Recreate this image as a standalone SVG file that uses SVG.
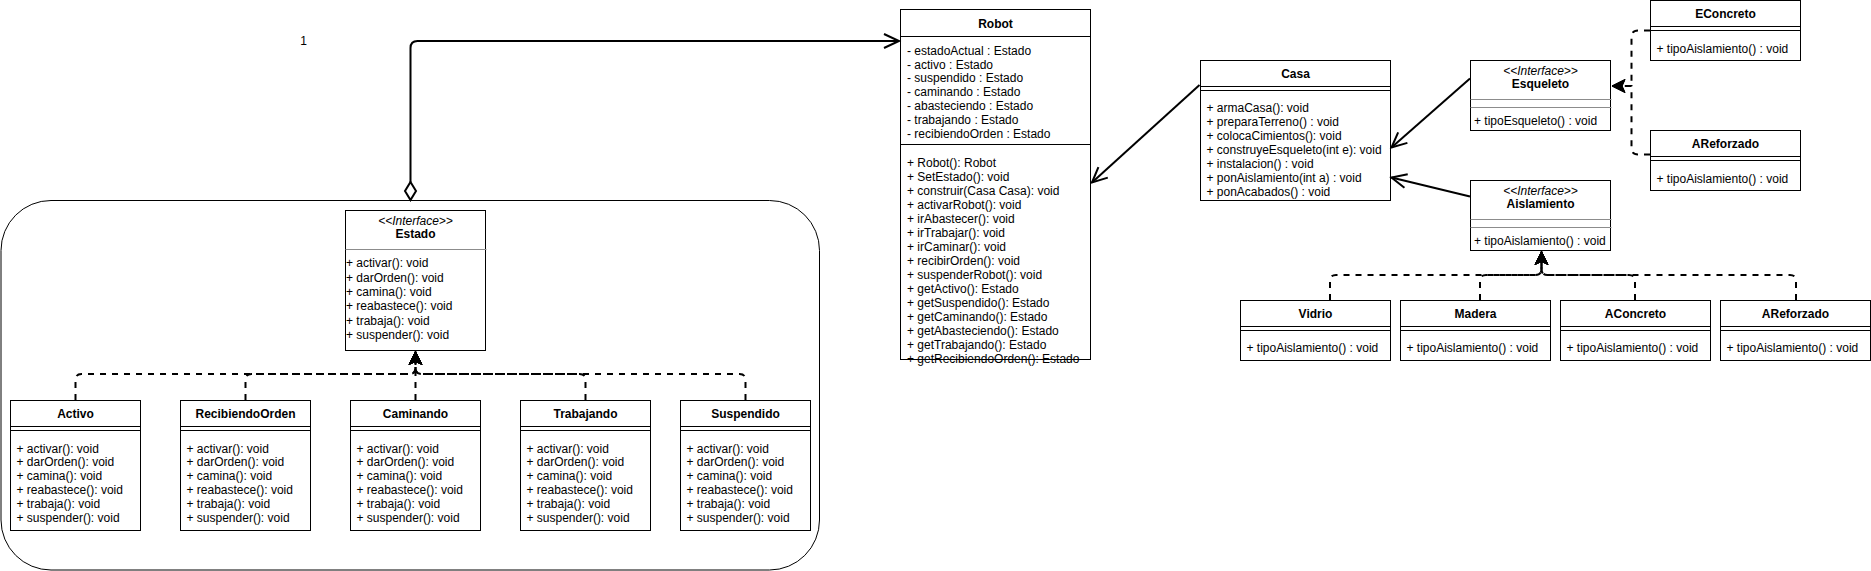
<svg xmlns="http://www.w3.org/2000/svg" width="1871" height="571" viewBox="0 0 1871 571">
<style>
.box{fill:#fff;stroke:#000;stroke-width:1}
.sep{stroke:#000;stroke-width:1}
.gsep{stroke:#8c8c8c;stroke-width:1}
.t{font-family:"Liberation Sans",Arial,Helvetica,sans-serif;font-size:12px;fill:#000}
.b{font-weight:bold;text-anchor:middle}
.i{font-style:italic;text-anchor:middle}
.conn{fill:none;stroke:#000;stroke-width:2}
.dash{stroke-dasharray:6 6}
.mk-open{fill:none;stroke:#000;stroke-width:2}
.mk-fill{fill:#000;stroke:#000;stroke-width:1}
</style>
<defs>
<marker id="open" markerUnits="userSpaceOnUse" markerWidth="20" markerHeight="18" refX="16" refY="8" orient="auto" overflow="visible">
<path class="mk-open" d="M1,1 L16,8 L1,15"/>
</marker>
<marker id="tri" markerUnits="userSpaceOnUse" markerWidth="16" markerHeight="16" refX="13" refY="6.5" orient="auto" overflow="visible">
<path class="mk-fill" d="M0,0 L13,6.5 L0,13 L3,6.5 Z"/>
</marker>
</defs>

<g id="container">
<rect x="1" y="200.5" width="818.5" height="369.5" rx="50" ry="50" fill="#fff" stroke="#000" stroke-width="1"/>
</g>

<g id="label-1"><text class="t" x="303.5" y="44.5" text-anchor="middle" font-size="11">1</text></g>

<g id="Robot">
<rect class="box" x="900.5" y="9.5" width="190" height="350"/>
<line class="sep" x1="900.5" y1="36.5" x2="1090.5" y2="36.5"/>
<line class="sep" x1="900.5" y1="144.5" x2="1090.5" y2="144.5"/>
<text class="t b" x="995.5" y="28">Robot</text>
<text class="t" x="907">
<tspan x="907" y="54.7">- estadoActual : Estado</tspan>
<tspan x="907" y="68.5">- activo : Estado</tspan>
<tspan x="907" y="82.3">- suspendido : Estado</tspan>
<tspan x="907" y="96.1">- caminando : Estado</tspan>
<tspan x="907" y="109.9">- abasteciendo : Estado</tspan>
<tspan x="907" y="123.7">- trabajando : Estado</tspan>
<tspan x="907" y="137.5">- recibiendoOrden : Estado</tspan>
</text>
<text class="t" x="907">
<tspan x="907" y="166.5">+ Robot(): Robot</tspan>
<tspan x="907" y="180.5">+ SetEstado(): void</tspan>
<tspan x="907" y="194.5">+ construir(Casa Casa): void</tspan>
<tspan x="907" y="208.5">+ activarRobot(): void</tspan>
<tspan x="907" y="222.5">+ irAbastecer(): void</tspan>
<tspan x="907" y="236.5">+ irTrabajar(): void</tspan>
<tspan x="907" y="250.5">+ irCaminar(): void</tspan>
<tspan x="907" y="264.5">+ recibirOrden(): void</tspan>
<tspan x="907" y="278.5">+ suspenderRobot(): void</tspan>
<tspan x="907" y="292.5">+ getActivo(): Estado</tspan>
<tspan x="907" y="306.5">+ getSuspendido(): Estado</tspan>
<tspan x="907" y="320.5">+ getCaminando(): Estado</tspan>
<tspan x="907" y="334.5">+ getAbasteciendo(): Estado</tspan>
<tspan x="907" y="348.5">+ getTrabajando(): Estado</tspan>
<tspan x="907" y="362.5">+ getRecibiendoOrden(): Estado</tspan>
</text>
<line class="sep" x1="900.5" y1="359.5" x2="1090.5" y2="359.5"/>
</g>

<g id="Estado">
<rect class="box" x="345.5" y="210.5" width="140" height="140"/>
<line class="gsep" x1="345.5" y1="249.5" x2="486.5" y2="249.5"/>
<text class="t i" x="415.5" y="224.5">&lt;&lt;Interface&gt;&gt;</text>
<text class="t b" x="415.5" y="238">Estado</text>
<text class="t">
<tspan x="346" y="267.3">+ activar(): void</tspan>
<tspan x="346" y="281.6">+ darOrden(): void</tspan>
<tspan x="346" y="295.9">+ camina(): void</tspan>
<tspan x="346" y="310.2">+ reabastece(): void</tspan>
<tspan x="346" y="324.5">+ trabaja(): void</tspan>
<tspan x="346" y="338.8">+ suspender(): void</tspan>
</text>
</g>

<g id="Activo">
<rect class="box" x="10.5" y="400.5" width="130" height="130"/>
<line class="sep" x1="10.5" y1="426.5" x2="140.5" y2="426.5"/>
<line class="sep" x1="10.5" y1="430.5" x2="140.5" y2="430.5"/>
<text class="t b" x="75.5" y="418">Activo</text>
<text class="t">
<tspan x="16.5" y="452.5">+ activar(): void</tspan>
<tspan x="16.5" y="466.3">+ darOrden(): void</tspan>
<tspan x="16.5" y="480.1">+ camina(): void</tspan>
<tspan x="16.5" y="493.9">+ reabastece(): void</tspan>
<tspan x="16.5" y="507.7">+ trabaja(): void</tspan>
<tspan x="16.5" y="521.5">+ suspender(): void</tspan>
</text>
</g>

<g id="RecibiendoOrden">
<rect class="box" x="180.5" y="400.5" width="130" height="130"/>
<line class="sep" x1="180.5" y1="426.5" x2="310.5" y2="426.5"/>
<line class="sep" x1="180.5" y1="430.5" x2="310.5" y2="430.5"/>
<text class="t b" x="245.5" y="418">RecibiendoOrden</text>
<text class="t">
<tspan x="186.5" y="452.5">+ activar(): void</tspan>
<tspan x="186.5" y="466.3">+ darOrden(): void</tspan>
<tspan x="186.5" y="480.1">+ camina(): void</tspan>
<tspan x="186.5" y="493.9">+ reabastece(): void</tspan>
<tspan x="186.5" y="507.7">+ trabaja(): void</tspan>
<tspan x="186.5" y="521.5">+ suspender(): void</tspan>
</text>
</g>

<g id="Caminando">
<rect class="box" x="350.5" y="400.5" width="130" height="130"/>
<line class="sep" x1="350.5" y1="426.5" x2="480.5" y2="426.5"/>
<line class="sep" x1="350.5" y1="430.5" x2="480.5" y2="430.5"/>
<text class="t b" x="415.5" y="418">Caminando</text>
<text class="t">
<tspan x="356.5" y="452.5">+ activar(): void</tspan>
<tspan x="356.5" y="466.3">+ darOrden(): void</tspan>
<tspan x="356.5" y="480.1">+ camina(): void</tspan>
<tspan x="356.5" y="493.9">+ reabastece(): void</tspan>
<tspan x="356.5" y="507.7">+ trabaja(): void</tspan>
<tspan x="356.5" y="521.5">+ suspender(): void</tspan>
</text>
</g>

<g id="Trabajando">
<rect class="box" x="520.5" y="400.5" width="130" height="130"/>
<line class="sep" x1="520.5" y1="426.5" x2="650.5" y2="426.5"/>
<line class="sep" x1="520.5" y1="430.5" x2="650.5" y2="430.5"/>
<text class="t b" x="585.5" y="418">Trabajando</text>
<text class="t">
<tspan x="526.5" y="452.5">+ activar(): void</tspan>
<tspan x="526.5" y="466.3">+ darOrden(): void</tspan>
<tspan x="526.5" y="480.1">+ camina(): void</tspan>
<tspan x="526.5" y="493.9">+ reabastece(): void</tspan>
<tspan x="526.5" y="507.7">+ trabaja(): void</tspan>
<tspan x="526.5" y="521.5">+ suspender(): void</tspan>
</text>
</g>

<g id="Suspendido">
<rect class="box" x="680.5" y="400.5" width="130" height="130"/>
<line class="sep" x1="680.5" y1="426.5" x2="810.5" y2="426.5"/>
<line class="sep" x1="680.5" y1="430.5" x2="810.5" y2="430.5"/>
<text class="t b" x="745.5" y="418">Suspendido</text>
<text class="t">
<tspan x="686.5" y="452.5">+ activar(): void</tspan>
<tspan x="686.5" y="466.3">+ darOrden(): void</tspan>
<tspan x="686.5" y="480.1">+ camina(): void</tspan>
<tspan x="686.5" y="493.9">+ reabastece(): void</tspan>
<tspan x="686.5" y="507.7">+ trabaja(): void</tspan>
<tspan x="686.5" y="521.5">+ suspender(): void</tspan>
</text>
</g>

<g id="Casa">
<rect class="box" x="1200.5" y="60.5" width="190" height="140"/>
<line class="sep" x1="1200.5" y1="86.5" x2="1390.5" y2="86.5"/>
<line class="sep" x1="1200.5" y1="90.5" x2="1390.5" y2="90.5"/>
<text class="t b" x="1295.5" y="78">Casa</text>
<text class="t">
<tspan x="1206.5" y="112.4">+ armaCasa(): void</tspan>
<tspan x="1206.5" y="126.3">+ preparaTerreno() : void</tspan>
<tspan x="1206.5" y="140.2">+ colocaCimientos(): void</tspan>
<tspan x="1206.5" y="154.1">+ construyeEsqueleto(int e): void</tspan>
<tspan x="1206.5" y="168">+ instalacion() : void</tspan>
<tspan x="1206.5" y="181.9">+ ponAislamiento(int a) : void</tspan>
<tspan x="1206.5" y="195.8">+ ponAcabados() : void</tspan>
</text>
</g>

<g id="Esqueleto">
<rect class="box" x="1470.5" y="60.5" width="140" height="70"/>
<line class="gsep" x1="1470.5" y1="99.5" x2="1611.5" y2="99.5"/>
<line class="gsep" x1="1470.5" y1="107.5" x2="1611.5" y2="107.5"/>
<text class="t i" x="1540.5" y="74.7">&lt;&lt;Interface&gt;&gt;</text>
<text class="t b" x="1540.5" y="88.2">Esqueleto</text>
<text class="t" x="1474" y="124.9">+ tipoEsqueleto() : void</text>
</g>

<g id="Aislamiento">
<rect class="box" x="1470.5" y="180.5" width="140" height="70"/>
<line class="gsep" x1="1470.5" y1="219.5" x2="1611.5" y2="219.5"/>
<line class="gsep" x1="1470.5" y1="227.5" x2="1611.5" y2="227.5"/>
<text class="t i" x="1540.5" y="194.7">&lt;&lt;Interface&gt;&gt;</text>
<text class="t b" x="1540.5" y="208.2">Aislamiento</text>
<text class="t" x="1474" y="244.9">+ tipoAislamiento() : void</text>
</g>

<g id="EConcreto">
<rect class="box" x="1650.5" y="0.5" width="150" height="60"/>
<line class="sep" x1="1650.5" y1="26.5" x2="1800.5" y2="26.5"/>
<line class="sep" x1="1650.5" y1="30.5" x2="1800.5" y2="30.5"/>
<text class="t b" x="1725.5" y="18">EConcreto</text>
<text class="t" x="1656.5" y="52.5">+ tipoAislamiento() : void</text>
</g>

<g id="AReforzado-E">
<rect class="box" x="1650.5" y="130.5" width="150" height="60"/>
<line class="sep" x1="1650.5" y1="156.5" x2="1800.5" y2="156.5"/>
<line class="sep" x1="1650.5" y1="160.5" x2="1800.5" y2="160.5"/>
<text class="t b" x="1725.5" y="148">AReforzado</text>
<text class="t" x="1656.5" y="182.5">+ tipoAislamiento() : void</text>
</g>

<g id="Vidrio">
<rect class="box" x="1240.5" y="300.5" width="150" height="60"/>
<line class="sep" x1="1240.5" y1="326.5" x2="1390.5" y2="326.5"/>
<line class="sep" x1="1240.5" y1="330.5" x2="1390.5" y2="330.5"/>
<text class="t b" x="1315.5" y="318">Vidrio</text>
<text class="t" x="1246.5" y="351.5">+ tipoAislamiento() : void</text>
</g>

<g id="Madera">
<rect class="box" x="1400.5" y="300.5" width="150" height="60"/>
<line class="sep" x1="1400.5" y1="326.5" x2="1550.5" y2="326.5"/>
<line class="sep" x1="1400.5" y1="330.5" x2="1550.5" y2="330.5"/>
<text class="t b" x="1475.5" y="318">Madera</text>
<text class="t" x="1406.5" y="351.5">+ tipoAislamiento() : void</text>
</g>

<g id="AConcreto">
<rect class="box" x="1560.5" y="300.5" width="150" height="60"/>
<line class="sep" x1="1560.5" y1="326.5" x2="1710.5" y2="326.5"/>
<line class="sep" x1="1560.5" y1="330.5" x2="1710.5" y2="330.5"/>
<text class="t b" x="1635.5" y="318">AConcreto</text>
<text class="t" x="1566.5" y="351.5">+ tipoAislamiento() : void</text>
</g>

<g id="AReforzado-A">
<rect class="box" x="1720.5" y="300.5" width="150" height="60"/>
<line class="sep" x1="1720.5" y1="326.5" x2="1870.5" y2="326.5"/>
<line class="sep" x1="1720.5" y1="330.5" x2="1870.5" y2="330.5"/>
<text class="t b" x="1795.5" y="318">AReforzado</text>
<text class="t" x="1726.5" y="351.5">+ tipoAislamiento() : void</text>
</g>

<g id="connectors">
<path class="conn" d="M410.5,182 V48 Q410.5,41 417.5,41 H899" marker-end="url(#open)"/>
<polygon points="410.5,182 416,191 410.5,200 405,191" fill="#fff" stroke="#000" stroke-width="2"/>
<path class="conn" d="M1199.5,85 L1092,182.5" marker-end="url(#open)"/>
<path class="conn" d="M1470,78.5 L1391.5,147.5" marker-end="url(#open)"/>
<path class="conn" d="M1470,196.5 L1391.5,177.5" marker-end="url(#open)"/>

<path class="conn dash" d="M1650,30.5 H1638 Q1631.5,30.5 1631.5,37 V86 H1612" marker-end="url(#tri)"/>
<path class="conn dash" d="M1650,154.5 H1638 Q1631.5,154.5 1631.5,148 V86 H1612" marker-end="url(#tri)"/>

<path class="conn dash" d="M1330,300 V281 Q1330,275 1336,275 H1535.5 Q1541.5,275 1541.5,269 V251.5" marker-end="url(#tri)"/>
<path class="conn dash" d="M1480,300 V281 Q1480,275 1486,275 H1535.5 Q1541.5,275 1541.5,269 V251.5" marker-end="url(#tri)"/>
<path class="conn dash" d="M1635,300 V281 Q1635,275 1629,275 H1547.5 Q1541.5,275 1541.5,269 V251.5" marker-end="url(#tri)"/>
<path class="conn dash" d="M1796,300 V281 Q1796,275 1790,275 H1547.5 Q1541.5,275 1541.5,269 V251.5" marker-end="url(#tri)"/>

<path class="conn dash" d="M75.5,400 V380 Q75.5,374 81.5,374 H409.5 Q415.5,374 415.5,368 V351.5" marker-end="url(#tri)"/>
<path class="conn dash" d="M245.5,400 V380 Q245.5,374 251.5,374 H409.5 Q415.5,374 415.5,368 V351.5" marker-end="url(#tri)"/>
<path class="conn dash" d="M415.5,400 V351.5" marker-end="url(#tri)"/>
<path class="conn dash" d="M585.5,400 V380 Q585.5,374 579.5,374 H421.5 Q415.5,374 415.5,368 V351.5" marker-end="url(#tri)"/>
<path class="conn dash" d="M745.5,400 V380 Q745.5,374 739.5,374 H421.5 Q415.5,374 415.5,368 V351.5" marker-end="url(#tri)"/>
</g>
</svg>
